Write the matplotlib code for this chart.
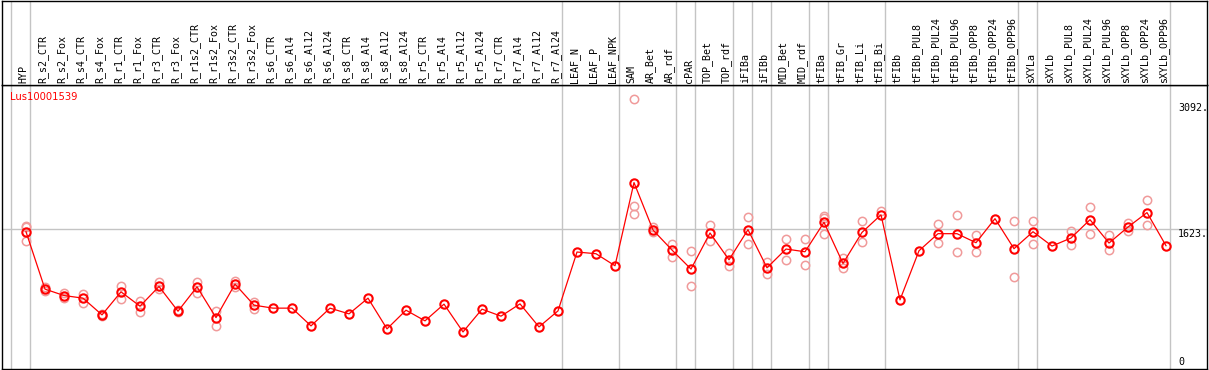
import matplotlib
matplotlib.use("Agg")
import matplotlib.pyplot as plt

categories = ["HYP", "R_s2_CTR", "R_s2_Fox", "R_s4_CTR", "R_s4_Fox", "R_r1_CTR", "R_r1_Fox",
              "R_r3_CTR", "R_r3_Fox", "R_r1s2_CTR", "R_r1s2_Fox", "R_r3s2_CTR", "R_r3s2_Fox",
              "R_s6_CTR", "R_s6_Al4", "R_s6_Al12", "R_s6_Al24", "R_s8_CTR", "R_s8_Al4",
              "R_s8_Al12", "R_s8_Al24", "R_r5_CTR", "R_r5_Al4", "R_r5_Al12", "R_r5_Al24",
              "R_r7_CTR", "R_r7_Al4", "R_r7_Al12", "R_r7_Al24", "LEAF_N", "LEAF_P", "LEAF_NPK",
              "SAM", "AR_Bet", "AR_rdf", "cPAR", "TOP_Bet", "TOP_rdf", "iFIBa", "iFIBb",
              "MID_Bet", "MID_rdf", "tFIBa", "tFIB_Gr", "tFIB_Li", "tFIB_Bi", "tFIBb",
              "tFIBb_PUL8", "tFIBb_PUL24", "tFIBb_PUL96", "tFIBb_OPP8", "tFIBb_OPP24",
              "tFIBb_OPP96", "sXYLa", "sXYLb", "sXYLb_PUL8", "sXYLb_PUL24", "sXYLb_PUL96",
              "sXYLb_OPP8", "sXYLb_OPP24", "sXYLb_OPP96"]

means = [1586, 913, 838, 807, 611, 881, 713, 944, 654, 940, 579, 972, 725,
         690, 690, 482, 690, 623, 807, 447, 666, 541, 737, 411, 678, 596, 740, 470, 658,
         1348, 1328, 1187,
         2162, 1606, 1371, 1148, 1571, 1257, 1610, 1163, 1383, 1351, 1696, 1214, 1578, 1784,
         787, 1363, 1563, 1563, 1457, 1739, 1387,
         1586, 1418, 1512, 1727, 1453, 1641, 1810, 1422]

replicates = [[1653, 1637, 1472], [940, 893], [870, 814], [861, 755], [623, 599], [952, 795],
              [776, 650], [991, 913], [670, 640], [991, 873], [658, 482], [1011, 940], [767, 678],
              [], [], [], [], [], [], [], [], [], [], [], [], [], [], [], [],
              [], [], [],
              [3145, 1884, 1794], [1637, 1578], [1442, 1293], [1359, 952], [1669, 1477],
              [1340, 1179], [1763, 1442], [1234, 1089], [1500, 1254], [1500, 1199],
              [1774, 1747, 1559], [1273, 1160], [1716, 1461], [1833],
              [], [], [1677, 1453], [1786, 1351], [1551, 1351], [], [1716, 1058],
              [1716, 1442], [], [1598, 1430], [1880, 1559], [1551, 1371], [1688, 1598],
              [1962, 1669], []]

group_ends = [-1, 0, 28, 31, 34, 35, 37, 38, 39, 41, 42, 45, 52, 53, 60]
ytick_values = [3092, 1623, 0]
title = "Lus10001539"

W, H = 1209, 370
fig = plt.figure(figsize=(W / 100, H / 100), dpi=100)

def px_rect(x0, y0, x1, y1):
    return [x0 / W, 1 - y1 / H, (x1 - x0) / W, (y1 - y0) / H]

ax = fig.add_axes(px_rect(1.5, 85, 1207, 369))
hx = fig.add_axes(px_rect(1.5, 0.5, 1207, 85))

xmin = (1.5 - 26) / 19
xmax = (1207 - 26) / 19
scale = 0.0853
ymax = (367 - 85) / scale
ymin = (367 - 369) / scale

for a in (ax, hx):
    a.set_xlim(xmin, xmax)
    a.set_xticks([])
    a.set_yticks([])
    for s in a.spines.values():
        s.set_color("black")
        s.set_linewidth(1.0)
ax.set_ylim(ymin, ymax)
hx.set_ylim(0, 84.5)

grey = "#c4c4c4"
for g in group_ends:
    ax.axvline(g + 0.22, color=grey, lw=1.0, zorder=1)
    hx.axvline(g + 0.22, color=grey, lw=1.0, zorder=1)
ax.axhline(1623, color=grey, lw=1.0, zorder=1)

xs = list(range(len(categories)))
rx, ry = [], []
for i, reps in enumerate(replicates):
    for v in reps:
        rx.append(i)
        ry.append(v)
ax.plot(rx, ry, linestyle="none", marker="o", ms=6, mfc="none", mec="#f09a9a", mew=1.1, zorder=2)
ax.plot(xs, means, color="#ff0000", lw=0.9, zorder=3)
ax.plot(xs, means, linestyle="none", marker="o", ms=6.0, mfc="none", mec="#ff0000", mew=1.5, zorder=4)

mono = "DejaVu Sans Mono"
for i, c in enumerate(categories):
    hx.text(i - 0.13, 2.0, c, rotation=90, ha="center", va="bottom",
            fontsize=7.2, family=mono, color="black")

fig.text(10 / W, 1 - 97 / H, title, color="#ff0000", fontsize=7.2, family="DejaVu Sans",
         ha="left", va="center")

xlab = (1178 - 26) / 19
for v in ytick_values:
    if v == 0:
        ax.text(xlab, 0, "0", ha="left", va="bottom", fontsize=7.2, family=mono)
    else:
        ax.text(xlab, v, f"{v}.", ha="left", va="top", fontsize=7.2, family=mono)

fig.savefig("out.png", dpi=100)
